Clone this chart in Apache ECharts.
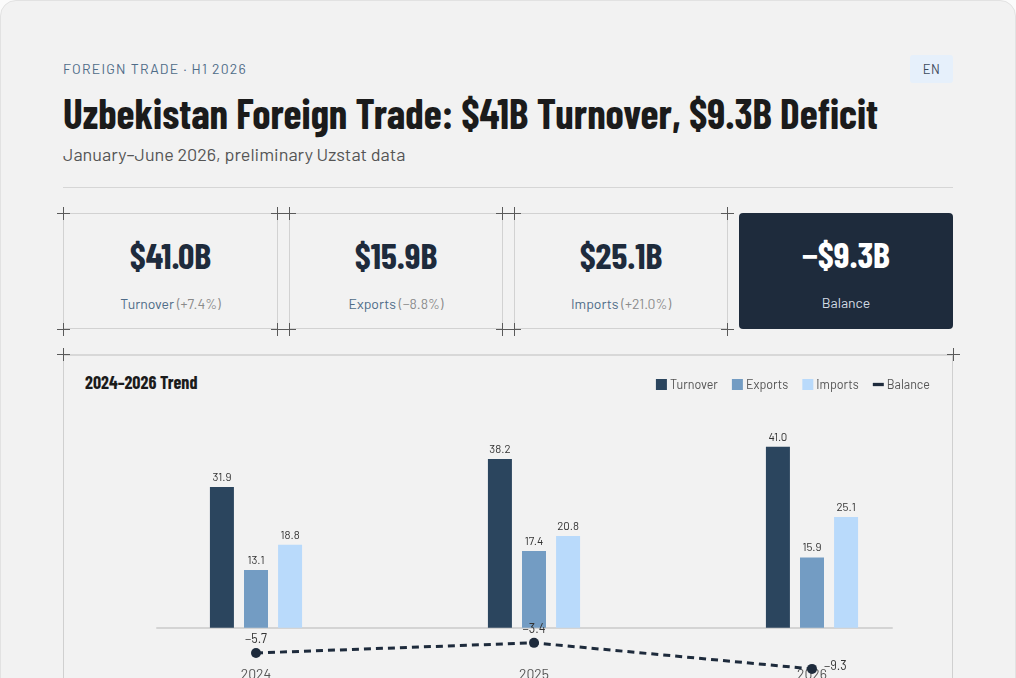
<!DOCTYPE html>
<html>
<head>
<meta charset="utf-8">
<script src="https://cdn.jsdelivr.net/npm/echarts@6/dist/echarts.min.js"></script>
<style>
  html, body { margin: 0; padding: 0; background: #fbfbfb; }
  body { width: 1016px; height: 678px; overflow: hidden; position: relative;
         font-family: "Barlow", Roboto, "Noto Sans", sans-serif; }
  .page { position: absolute; left: 0; top: 0; width: 1014px; height: 760px;
          background: #f2f2f2; border: 1px solid #e2e2e2; border-radius: 16px; }
  .abs { position: absolute; white-space: nowrap; }
  .cond { font-family: "Barlow Condensed", "Roboto Condensed", "Liberation Sans Narrow", "DejaVu Sans Condensed", "Noto Sans", sans-serif;
          font-stretch: condensed; font-weight: 700; }
  .eyebrow { left: 63px; top: 60px; font-size: 14px; letter-spacing: 1.2px; color: #4f6c88; }
  .title { left: 63px; top: 88px; font-size: 42px; color: #1b1b1b; transform-origin: 0 50%; line-height: 48px; }
  .sub { left: 63px; top: 143px; font-size: 18px; color: #555; }
  .rule { position: absolute; left: 63px; top: 187px; width: 890px; height: 1px; background: #d6d6d6; }
  .badge { position: absolute; left: 910px; top: 55px; width: 43px; height: 28px; background: #e6f0fb;
           border-radius: 3px; font-size: 13px; color: #3b4a5c; text-align: center; line-height: 28px; letter-spacing: 0.5px; }
  .card { position: absolute; top: 213px; height: 116px; border: 1px solid #d2d2d2; box-sizing: border-box; text-align: center; }
  .card .val { position: absolute; left: 0; right: 0; top: 21px; font-size: 36px; line-height: 40px; color: #1e2b3c; }
  .card .lbl { position: absolute; left: 0; right: 0; top: 81px; font-size: 14px; line-height: 18px; color: #4f6c88; }
  .card .lbl span { color: #8a8a8a; }
  .card.dark { background: #1e2b3c; border: none; border-radius: 4px; }
  .card.dark .val { color: #ffffff; }
  .card.dark .lbl { color: #d3dbe4; }
  .x { position: absolute; width: 13px; height: 13px; margin: -6px 0 0 -6px; }
  .x:before { content: ""; position: absolute; left: 0; top: 6px; width: 13px; height: 1px; background: #5a5a5a; }
  .x:after { content: ""; position: absolute; left: 6px; top: 0; width: 1px; height: 13px; background: #5a5a5a; }
  .panel { position: absolute; left: 63px; top: 354px; width: 890px; height: 400px;
           border-top: 2px solid #d8d8d8; border-left: 1px solid #d0d0d0; border-right: 1px solid #d0d0d0; box-sizing: border-box; }
  .ctitle { left: 85px; top: 371px; font-size: 18px; color: #1b1b1b; line-height: 22px; }
  #chart { position: absolute; left: 64px; top: 355px; width: 888px; height: 323px; }
</style>
</head>
<body>
<div class="page"></div>
<div class="abs eyebrow">FOREIGN TRADE · H1 2026</div>
<div class="abs title cond" id="title">Uzbekistan Foreign Trade: $41B Turnover, $9.3B Deficit</div>
<div class="abs sub">January–June 2026, preliminary Uzstat data</div>
<div class="rule"></div>
<div class="badge">EN</div>

<div class="card" style="left:63px;width:215px"><div class="val cond">$41.0B</div><div class="lbl">Turnover <span>(+7.4%)</span></div></div>
<div class="card" style="left:289px;width:214px"><div class="val cond">$15.9B</div><div class="lbl">Exports <span>(−8.8%)</span></div></div>
<div class="card" style="left:514px;width:214px"><div class="val cond">$25.1B</div><div class="lbl">Imports <span>(+21.0%)</span></div></div>
<div class="card dark" style="left:739px;width:214px"><div class="val cond">−$9.3B</div><div class="lbl">Balance</div></div>

<div class="panel"></div>
<div class="abs ctitle cond">2024–2026 Trend</div>
<div id="chart"></div>

<div id="marks"></div>

<script>
// chart data (USD billions, January-June)
var years = ['2024', '2025', '2026'];
var turnover = [31.9, 38.2, 41.0];
var exportsVal = [13.1, 17.4, 15.9];
var importsVal = [18.8, 20.8, 25.1];
var balance = [-5.7, -3.4, -9.3];

// corner crosshairs around the kpi cards and chart panel
var crossX = [63, 277, 289, 502, 514, 727];
var marks = document.getElementById('marks');
crossX.forEach(function(x) {
	[213, 329].forEach(function(y) {
		var d = document.createElement('div');
		d.className = 'x';
		d.style.left = x + 'px';
		d.style.top = y + 'px';
		marks.appendChild(d);
	});
});
[63, 953].forEach(function(x) {
	var d = document.createElement('div');
	d.className = 'x';
	d.style.left = x + 'px';
	d.style.top = '354px';
	marks.appendChild(d);
});

// squeeze the headline to the reference width
var t = document.getElementById('title');
var w = t.getBoundingClientRect().width;
t.style.transform = 'scaleX(' + (815 / w) + ')';

var fmt = function(v) {
	return (v < 0 ? '\u2212' : '') + Math.abs(v).toFixed(1);
};

var myChart = echarts.init(document.getElementById('chart'));
var barLabel = {
	show: true,
	position: 'top',
	distance: 4,
	fontSize: 11.5,
	color: '#333',
	formatter: function(p) { return fmt(p.value); }
};
var balanceData = balance.map(function(v, i) {
	return i === balance.length - 1 ? { value: v, label: { position: 'right', distance: 7, offset: [0, -3] } } : v;
});

myChart.setOption({
	textStyle: { fontFamily: 'Barlow, Roboto, sans-serif' },
	animation: false,
	legend: {
		top: 18,
		right: 17,
		itemWidth: 11,
		itemHeight: 11,
		itemGap: 14,
		textStyle: { fontSize: 12.5, color: '#555', padding: [0, 0, 0, -2] },
		data: [
			{ name: 'Turnover', icon: 'rect' },
			{ name: 'Exports', icon: 'rect' },
			{ name: 'Imports', icon: 'rect' },
			{ name: 'Balance', icon: 'path://M0,0h10v3h-10z' }
		]
	},
	grid: [
		{ left: 53, right: 1, top: 74, bottom: 6, outerBoundsMode: 'none', containLabel: false },
		{ left: 93, right: 60, top: 74, bottom: 6, outerBoundsMode: 'none', containLabel: false }
	],
	xAxis: [{
		type: 'category',
		data: years,
		axisLine: { show: false },
		axisTick: { show: false },
		axisLabel: { fontSize: 14, color: '#555', margin: -5 }
	}, {
		type: 'category',
		gridIndex: 1,
		data: [''],
		axisLine: { show: true, onZero: true, lineStyle: { color: '#d4d4d4', width: 2 } },
		axisTick: { show: false },
		axisLabel: { show: false }
	}],
	yAxis: [{
		type: 'value',
		min: -10,
		max: 45,
		show: false
	}, {
		type: 'value',
		gridIndex: 1,
		min: -10,
		max: 45,
		show: false
	}],
	series: [{
		name: 'Turnover',
		type: 'bar',
		barWidth: 24,
		barGap: '42%',
		itemStyle: { color: '#2b455e' },
		label: barLabel,
		data: turnover
	}, {
		name: 'Exports',
		type: 'bar',
		barWidth: 24,
		barGap: '42%',
		itemStyle: { color: '#739cc3' },
		label: barLabel,
		data: exportsVal
	}, {
		name: 'Imports',
		type: 'bar',
		barWidth: 24,
		barGap: '42%',
		itemStyle: { color: '#b9dafb' },
		label: barLabel,
		data: importsVal
	}, {
		name: 'Balance',
		type: 'line',
		symbol: 'circle',
		symbolSize: 10,
		itemStyle: { color: '#1e2b3c' },
		lineStyle: { color: '#1e2b3c', width: 3, type: [7, 5] },
		label: {
			show: true,
			position: 'top',
			distance: 3,
			fontSize: 12.5,
			color: '#333',
			formatter: function(p) { return fmt(p.value); }
		},
		z: 5,
		data: balanceData
	}]
});
</script>
</body>
</html>
